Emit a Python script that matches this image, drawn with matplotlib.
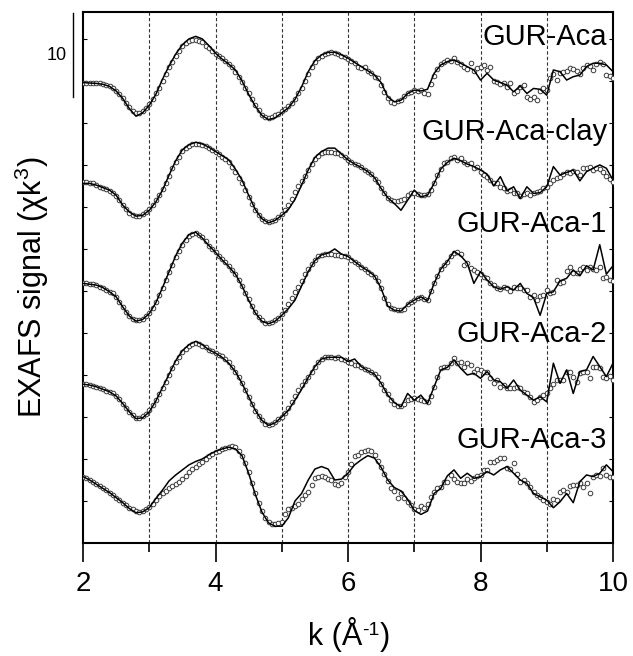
import numpy as np
import matplotlib
matplotlib.use("Agg")
import matplotlib.pyplot as plt
import matplotlib.transforms as mtransforms

plt.rcParams['font.family'] = ['Liberation Sans', 'DejaVu Sans']
plt.rcParams['mathtext.fontset'] = 'custom'
plt.rcParams['mathtext.rm'] = 'Liberation Sans'
plt.rcParams['mathtext.it'] = 'Liberation Sans:italic'
plt.rcParams['mathtext.default'] = 'regular'

# ---------------- data ----------------
k_fit = np.round(np.arange(2.0, 10.0001, 0.1), 2)     # 81 points
k_dat = np.round(np.arange(2.0, 10.0001, 0.05), 2)    # 161 points

names = ["GUR-Aca", "GUR-Aca-clay", "GUR-Aca-1", "GUR-Aca-2", "GUR-Aca-3"]
offsets = [54, 42, 30, 18, 6]

fit_aca = [
    0.8, 0.75, 0.7, 0.6, 0.35, -0.2, -1.1, -2.3, -3.2, -2.8,
    -1.9, -0.6, 1.2, 2.8, 4.2, 5.3, 6.0, 6.3, 6.0, 5.2,
    4.3, 3.6, 3.0, 2.3, 1.0, -0.6, -2.0, -3.1, -3.6, -3.4,
    -2.8, -2.2, -1.2, 0.3, 2.1, 3.4, 4.1, 4.4, 4.4, 4.1,
    3.7, 3.2, 2.7, 2.2, 1.7, 0.8, -0.9, -1.5, -1.3, -0.5,
    -0.1, -0.2, 0.0, 1.9, 2.9, 3.3, 3.5, 3.1, 2.7, 2.3,
    1.1, 1.9, 1.1, 0.8, 0.5, -0.3, 0.4, -0.5, 0.1, 0.0,
    -0.7, 2.3, 2.1, 1.1, 1.5, 1.7, 2.7, 3.1, 3.1, 2.9,
    2.1]
dat_aca = [
    0.8, 0.8, 0.75, 0.75, 0.7, 0.7, 0.65, 0.5, 0.35, 0.1,
    -0.2, -0.6, -1.0, -1.6, -2.1, -2.6, -2.8, -2.8, -2.6, -2.2,
    -1.8, -1.2, -0.5, 0.2, 1.0, 1.8, 2.6, 3.3, 4.0, 4.6,
    5.1, 5.5, 5.8, 5.9, 5.9, 5.8, 5.6, 5.2, 4.9, 4.5,
    4.2, 4.0, 3.7, 3.4, 3.0, 2.6, 2.1, 1.5, 0.9, 0.2,
    -0.5, -1.2, -1.9, -2.5, -3.0, -3.3, -3.4, -3.3, -3.1, -2.9,
    -2.6, -2.3, -2.0, -1.6, -1.1, -0.5, 0.2, 1.0, 1.8, 2.6,
    3.2, 3.7, 4.0, 4.2, 4.3, 4.4, 4.3, 4.2, 4.0, 3.8,
    3.6, 3.4, 3.1, 2.7, 2.5, 2.6, 2.2, 1.9, 1.5, 1.3,
    0.5, -0.3, -1.0, -1.5, -1.6, -1.4, -1.3, -0.8, -0.4, -0.3,
    -0.1, -0.2, -0.1, -0.5, -0.6, 0.6, 1.6, 2.4, 3.0, 3.3,
    3.5, 3.4, 3.7, 3.3, 3.0, 2.7, 2.4, 3.1, 2.2, 2.5,
    2.7, 2.9, 2.3, 2.6, 1.0, 0.9, 0.6, 0.7, 0.3, 0.8,
    -0.5, -0.2, 0.3, 0.5, -0.9, -1.2, -0.9, -1.3, -0.2, 0.1,
    -0.1, 1.3, 1.8, 1.1, 1.9, 2.1, 2.2, 2.5, 2.4, 2.2,
    1.8, 2.5, 2.9, 2.8, 2.3, 3.0, 3.2, 3.0, 1.7, 1.6,
    1.4]

fit_clay = [
    0.8, 0.8, 0.6, 0.3, 0.0, -0.6, -1.8, -2.6, -3.1, -3.0,
    -2.4, -1.4, 0.0, 1.8, 3.5, 4.8, 5.4, 5.7, 5.5, 5.1,
    4.6, 4.1, 3.6, 2.5, 1.2, -0.6, -2.3, -3.4, -3.9, -3.6,
    -3.0, -2.3, -1.1, 0.6, 2.4, 3.9, 4.6, 5.0, 5.0, 4.3,
    3.6, 3.1, 2.7, 2.2, 1.5, 0.2, -0.9, -1.6, -2.4, -1.2,
    0.0, -0.8, -0.6, 0.8, 2.5, 3.3, 3.8, 3.5, 3.1, 2.8,
    2.4, 1.9, 0.5, 1.6, -0.1, 0.4, -1.0, 0.4, -0.4, -0.3,
    0.4, 2.8, 1.8, 2.1, 2.4, 1.1, 2.2, 2.6, 3.0, 2.6,
    1.2]
dat_clay = [
    1.0, 1.0, 0.9, 0.8, 0.6, 0.4, 0.3, 0.1, -0.1, -0.3,
    -0.7, -1.2, -1.8, -2.3, -2.7, -3.0, -3.1, -3.1, -2.9, -2.6,
    -2.3, -1.8, -1.2, -0.6, 0.1, 0.9, 1.7, 2.6, 3.4, 4.0,
    4.6, 5.0, 5.3, 5.5, 5.5, 5.5, 5.4, 5.2, 5.0, 4.8,
    4.5, 4.3, 4.0, 3.7, 3.3, 2.8, 2.2, 1.5, 0.8, 0.0,
    -0.8, -1.7, -2.4, -3.0, -3.4, -3.7, -3.8, -3.7, -3.5, -3.2,
    -2.9, -2.4, -1.8, -1.0, -0.2, 0.5, 1.1, 1.7, 2.4, 3.1,
    3.7, 4.1, 4.4, 4.5, 4.5, 4.5, 4.4, 4.4, 4.2, 3.9,
    3.6, 3.4, 3.1, 3.0, 2.7, 2.4, 2.2, 1.9, 1.3, 1.0,
    0.3, -0.4, -0.9, -1.2, -1.3, -1.3, -1.2, -1.1, -0.6, -0.4,
    -0.3, -0.5, -0.6, -0.6, -0.5, 0.0, 0.9, 1.8, 2.5, 3.2,
    3.4, 3.8, 3.9, 3.6, 3.8, 3.4, 3.1, 3.2, 2.6, 2.8,
    2.2, 1.8, 1.6, 1.2, 0.9, 0.8, 0.4, 0.3, -0.1, 0.0,
    -0.3, -0.4, -0.7, -0.5, -0.4, -0.6, -0.4, -0.2, -0.1, 0.3,
    0.4, 0.9, 1.2, 1.4, 1.6, 1.9, 2.2, 2.0, 2.3, 2.1,
    1.8, 2.6, 2.6, 2.8, 2.4, 2.6, 2.5, 2.2, 1.7, 1.3,
    1.0]

fit_1 = [
    0.9, 0.8, 0.7, 0.4, -0.1, -0.7, -1.9, -3.0, -3.6, -3.4,
    -2.7, -1.4, 0.4, 2.3, 4.2, 5.7, 6.7, 7.0, 6.3, 5.4,
    4.6, 3.7, 2.9, 2.0, 0.6, -1.1, -2.6, -3.6, -3.9, -3.6,
    -2.9, -2.1, -1.1, 0.6, 2.3, 3.6, 4.3, 4.5, 5.0, 4.4,
    4.1, 3.5, 2.9, 2.4, 1.8, 0.3, -1.8, -2.3, -2.4, -1.6,
    -1.1, -0.7, -1.2, 0.9, 2.6, 3.5, 4.7, 4.2, 3.3, 0.9,
    2.3, 1.3, 0.5, 0.2, 0.5, 0.1, 0.9, -0.3, -0.8, -2.9,
    -0.3, -0.1, 1.2, 1.5, 2.5, 1.8, 3.0, 2.5, 5.5, 2.0,
    3.0]
dat_1 = [
    0.9, 0.9, 0.8, 0.8, 0.7, 0.5, 0.3, 0.1, -0.1, -0.3,
    -0.7, -1.3, -1.9, -2.5, -3.0, -3.3, -3.5, -3.5, -3.3, -3.0,
    -2.6, -2.0, -1.3, -0.5, 0.4, 1.3, 2.2, 3.1, 4.0, 4.8,
    5.5, 6.1, 6.5, 6.8, 6.9, 6.7, 6.4, 5.9, 5.4, 5.0,
    4.6, 4.2, 3.8, 3.5, 3.0, 2.5, 2.0, 1.3, 0.6, -0.2,
    -1.0, -1.8, -2.5, -3.1, -3.5, -3.8, -3.8, -3.7, -3.5, -3.2,
    -2.8, -2.3, -1.6, -0.8, -0.1, 0.5, 1.2, 2.0, 2.6, 3.2,
    3.7, 4.1, 4.3, 4.4, 4.4, 4.4, 4.3, 4.3, 4.2, 4.1,
    4.0, 3.7, 3.5, 3.2, 2.9, 2.6, 2.3, 2.0, 1.7, 1.2,
    0.4, -0.8, -1.6, -2.0, -2.2, -2.3, -2.3, -2.2, -1.6, -1.3,
    -1.1, -0.8, -0.7, -0.9, -1.1, 0.0, 1.0, 1.8, 2.6, 3.1,
    3.5, 4.1, 4.5, 4.6, 4.4, 3.1, 3.3, 2.7, 2.5, 2.3,
    2.0, 1.7, 1.5, 1.0, 0.7, 0.4, 0.2, 0.5, 0.3, 0.0,
    0.5, 0.3, 0.3, 0.1, 0.1, -0.7, -0.5, -1.1, -0.6, -0.5,
    0.1, -0.3, -0.1, 1.3, 0.9, 1.1, 2.4, 2.9, 2.1, 2.1,
    2.6, 2.9, 2.5, 2.9, 2.6, 2.5, 2.9, 1.6, 1.7, 1.3,
    1.2]

fit_2 = [
    0.9, 0.8, 0.6, 0.3, 0.0, -0.5, -1.4, -2.4, -3.2, -3.1,
    -2.4, -1.1, 0.5, 2.1, 3.7, 4.9, 5.6, 6.0, 5.6, 5.0,
    4.6, 4.1, 3.4, 2.4, 1.0, -0.6, -2.2, -3.4, -4.0, -3.7,
    -3.0, -2.2, -1.0, 0.3, 1.7, 3.0, 3.9, 4.1, 4.1, 4.1,
    3.6, 3.9, 3.0, 2.5, 2.1, 1.0, -0.4, -1.3, -1.8, -0.2,
    -1.0, -0.4, -1.4, 0.6, 2.6, 2.9, 3.8, 2.8, 2.0, 2.2,
    1.6, 2.4, 1.4, 1.2, 0.4, 1.4, 0.2, -0.4, -1.0, -0.6,
    -1.2, 3.4, 1.0, 2.6, -0.2, 2.4, 2.6, 4.2, 3.0, 1.8,
    3.4]
dat_2 = [
    0.9, 0.9, 0.8, 0.7, 0.6, 0.4, 0.3, 0.1, 0.0, -0.2,
    -0.5, -0.9, -1.4, -1.9, -2.4, -2.8, -3.1, -3.1, -2.9, -2.6,
    -2.2, -1.6, -1.0, -0.3, 0.4, 1.2, 2.0, 2.8, 3.5, 4.1,
    4.7, 5.1, 5.5, 5.7, 5.8, 5.7, 5.5, 5.3, 5.0, 4.8,
    4.6, 4.4, 4.2, 3.9, 3.5, 3.0, 2.4, 1.7, 1.0, 0.2,
    -0.6, -1.5, -2.3, -2.9, -3.4, -3.8, -3.9, -3.8, -3.6, -3.3,
    -3.0, -2.5, -1.9, -1.2, -0.5, 0.2, 0.8, 1.3, 1.8, 2.4,
    3.0, 3.6, 3.9, 4.1, 4.1, 4.1, 4.0, 4.1, 3.9, 3.8,
    3.6, 3.4, 3.2, 3.2, 2.9, 2.7, 2.6, 2.3, 2.1, 1.7,
    0.9, 0.2, -0.3, -1.0, -1.4, -1.7, -1.7, -1.5, -1.0, -0.9,
    -0.8, -0.9, -1.0, -1.1, -1.2, -0.5, 0.6, 1.7, 2.8, 3.0,
    3.0, 3.4, 4.0, 3.4, 3.6, 3.0, 3.4, 3.2, 2.4, 2.7,
    2.6, 2.3, 2.4, 1.6, 1.0, 1.4, 0.6, 0.8, 0.4, 0.5,
    0.4, 0.6, 0.4, 0.0, -0.2, -0.6, -1.2, -1.0, -0.6, -0.4,
    -0.2, 0.4, 0.9, 1.4, 1.4, 1.4, 2.4, 2.4, 1.8, 1.2,
    2.2, 2.4, 2.4, 1.6, 3.0, 2.9, 2.8, 1.8, 1.6, 1.9,
    1.4]

fit_3 = [
    1.9, 1.5, 1.0, 0.5, 0.0, -0.6, -1.2, -1.9, -2.4, -2.3,
    -1.8, -0.7, 0.3, 1.4, 2.1, 2.7, 3.3, 3.7, 4.0, 4.5,
    4.9, 5.2, 5.4, 5.2, 4.4, 2.3, -0.2, -2.3, -3.6, -4.0,
    -4.0, -3.0, -1.0, -0.1, 1.5, 2.8, 3.1, 2.8, 1.5, 1.6,
    2.3, 3.3, 3.9, 4.4, 4.1, 3.0, 1.5, 0.6, 0.2, -0.8,
    -2.1, -2.6, -2.2, -0.1, 0.5, 2.0, 2.7, 1.7, 2.3, 1.7,
    1.9, 2.5, 2.1, 2.7, 3.1, 2.3, 1.5, 1.1, -0.1, -0.5,
    -0.9, -1.8, -1.1, -0.1, -1.2, 1.3, 2.1, 1.9, 2.3, 3.3,
    2.5]
dat_3 = [
    1.9, 1.7, 1.5, 1.3, 1.0, 0.8, 0.5, 0.3, 0.0, -0.3,
    -0.6, -0.9, -1.2, -1.5, -1.8, -2.0, -2.2, -2.3, -2.2, -2.0,
    -1.7, -1.3, -0.9, -0.4, -0.1, 0.2, 0.5, 0.8, 1.0, 1.3,
    1.6, 2.0, 2.4, 2.8, 3.1, 3.4, 3.7, 4.0, 4.4, 4.6,
    4.8, 5.0, 5.2, 5.3, 5.4, 5.5, 5.4, 5.0, 4.4, 3.5,
    2.4, 1.2, 0.0, -1.2, -2.2, -3.0, -3.5, -3.7, -3.7, -3.6,
    -3.5, -2.5, -2.0, -1.8, -1.6, -1.3, -0.8, -0.3, 0.1, 0.9,
    1.7, 1.9, 2.0, 1.8, 1.6, 1.5, 1.0, 0.9, 1.2, 1.8,
    2.5, 3.4, 4.3, 4.5, 4.8, 4.9, 5.1, 5.0, 4.5, 3.8,
    3.0, 2.2, 1.4, 0.5, 0.2, -0.7, -0.1, -0.6, -1.1, -1.5,
    -1.9, -2.1, -1.6, -1.8, -1.3, -0.5, 0.1, 0.5, 0.7, 1.3,
    1.3, 2.1, 1.6, 1.3, 1.2, 1.1, 1.6, 1.4, 1.7, 2.0,
    2.1, 2.7, 2.7, 3.7, 3.7, 3.9, 4.1, 4.1, 2.9, 2.8,
    3.5, 2.2, 1.3, 1.5, 1.1, 0.7, 0.1, -0.3, -0.5, -0.9,
    -1.1, -1.3, -0.8, -0.9, 0.1, 0.3, 0.1, 0.8, 0.9, 0.9,
    1.1, 0.7, 1.1, -0.1, 1.8, 2.1, 2.0, 2.9, 2.1, 1.9,
    1.9]

fits = [fit_aca, fit_clay, fit_1, fit_2, fit_3]
dats = [dat_aca, dat_clay, dat_1, dat_2, dat_3]
label_y = [59.3, 48.0, 37.0, 23.9, 11.3]

# ---------------- figure ----------------
W, H = 633, 656
fig = plt.figure(figsize=(W / 100, H / 100), dpi=100)
ax = fig.add_axes([83 / W, (H - 543) / H, 530 / W, 531 / H])

for fit, dat, off in zip(fits, dats, offsets):
    ax.plot(k_dat, np.asarray(dat) + off, linestyle='none', marker='o',
            markersize=3.3, markerfacecolor='white', markeredgecolor='#3a3a3a',
            markeredgewidth=0.7, zorder=3)
    ax.plot(k_fit, np.asarray(fit) + off, color='black', lw=1.1, zorder=4)

for xv in [3, 4, 5, 6, 7, 8, 9]:
    ax.axvline(xv, color='#333333', lw=0.8, dashes=(3, 2), zorder=1)

ax.set_xlim(2, 10)
ax.set_ylim(0, 63.2)
ax.set_xticks([2, 4, 6, 8, 10])
ax.set_xticks([3, 5, 7, 9], minor=True)
ax.set_xticklabels(['2', '4', '6', '8', '10'])
ax.set_yticks(np.arange(5, 63, 5))
ax.tick_params(axis='x', which='major', direction='out', length=13.5, width=1.2,
               labelsize=20, pad=7)
ax.tick_params(axis='x', which='minor', direction='out', length=6.5, width=1.2)
ax.tick_params(axis='y', which='both', direction='in', length=3, width=0.8,
               left=True, right=True, labelleft=False)
for s in ax.spines.values():
    s.set_linewidth(1.5)

trans = mtransforms.blended_transform_factory(ax.transAxes, ax.transData)
for name, ly in zip(names, label_y):
    ax.text(0.989, ly, name, transform=trans, ha='right', va='baseline',
            fontsize=21, zorder=5)

# scale bar
ax.plot([-0.019, -0.019], [53.1, 63.1], transform=trans, color='black', lw=1.0,
        clip_on=False)
ax.text(-0.049, 58.0, '10', transform=trans, ha='center', va='center', fontsize=13)

fig.text(32 / W, 1 - 287 / H, r'EXAFS signal ($\chi$k$^3$)', rotation=90,
         ha='center', va='center', fontsize=22)

# x label "k (Å-1)" with a hyphen superscript, assembled from pieces
renderer = fig.canvas.get_renderer()
base_y = 1 - 645 / H
parts = [('k (Å', 22, 0.0), ('-1', 14, 10.0), (')', 22, 0.0)]
texts = []
widths = []
for s, fs, dy in parts:
    t = fig.text(0, base_y + dy / H, s, fontsize=fs, ha='left', va='baseline')
    texts.append(t)
    widths.append(t.get_window_extent(renderer).width)
total = sum(widths)
x = 349 - total / 2
for t, w in zip(texts, widths):
    t.set_x(x / W)
    x += w

fig.savefig('out.png', dpi=100)
